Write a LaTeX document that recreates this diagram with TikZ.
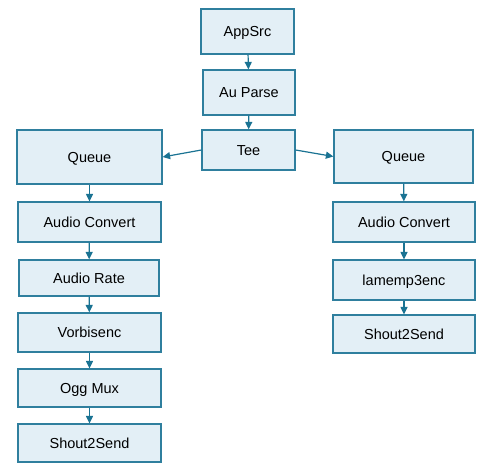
\documentclass[tikz,border=0pt]{standalone}
\usepackage{fontspec}
\setmainfont{Liberation Sans}
\usetikzlibrary{arrows.meta}
\definecolor{boxfill}{HTML}{E3EFF6}
\definecolor{boxline}{HTML}{2F7F9E}
\definecolor{arrowc}{HTML}{1A7393}
\begin{document}
\begin{tikzpicture}[x=1pt,y=-1pt,
  blk/.style={draw=boxline,fill=boxfill,line width=1.2pt,inner sep=0pt,
    text height=10.4pt,text depth=0pt,
    font=\fontsize{14.5}{16}\selectfont},
  conn/.style={draw=arrowc,line width=1.2pt,-{Triangle[length=7.5pt,width=7pt]}}]
\fill[white] (0,0) rectangle (485,473);
\newcommand\mkbox[6]{\node[blk,minimum width={#4-#2},minimum height={#5-#3}] (#1) at ({(#2+#4)/2},{(#3+#5)/2}) {#6};}
\mkbox{app}{201}{9}{294}{54}{AppSrc}
\mkbox{au}{203}{70}{295}{115}{Au Parse}
\mkbox{tee}{202}{130}{295}{170}{Tee}
\mkbox{lq}{17}{130}{162}{184}{Queue}
\mkbox{lac}{18}{202}{161}{242}{Audio Convert}
\mkbox{lar}{19}{260}{159}{296}{Audio Rate}
\mkbox{vor}{18}{313}{161}{352}{Vorbisenc}
\mkbox{ogg}{18}{369}{161}{407}{Ogg Mux}
\mkbox{lsh}{18}{424}{161}{462}{Shout2Send}
\mkbox{rq}{334}{130}{473}{183}{Queue}
\mkbox{rac}{333}{202}{475}{242}{Audio Convert}
\mkbox{lame}{333}{260}{475}{300}{lamemp3enc}
\mkbox{rsh}{333}{315}{475}{353}{Shout2Send}
\draw[conn] (app) -- (au);
\draw[conn] (au) -- (tee);
\draw[conn] (tee.west) -- (lq.east);
\draw[conn] (tee.east) -- (rq.west);
\draw[conn] (lq) -- (lac);
\draw[conn] (lac) -- (lar);
\draw[conn] (lar) -- (vor);
\draw[conn] (vor) -- (ogg);
\draw[conn] (ogg) -- (lsh);
\draw[conn] (rq) -- (rac);
\draw[conn] (rac) -- (lame);
\draw[conn] (lame) -- (rsh);
\end{tikzpicture}
\end{document}
